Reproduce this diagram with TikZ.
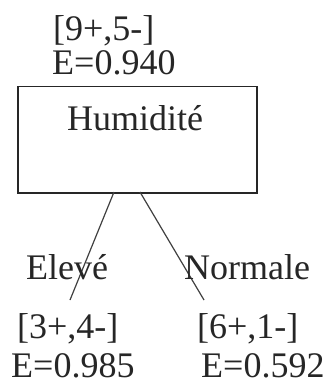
\documentclass[tikz,border=0pt]{standalone}
\usepackage{fontspec}
\setmainfont{Liberation Serif}
\begin{document}
\begin{tikzpicture}[x=1pt,y=-1pt,
  lbl/.style={anchor=base west, inner sep=0pt, font=\fontsize{36}{43}\selectfont, text=black!85},
  boxst/.style={draw=black!85, line width=1.5pt, inner sep=0pt, minimum width=239pt, minimum height=106pt, anchor=north west},
  edge/.style={draw=black!75, line width=1.2pt}]
\useasboundingbox (0,0) rectangle (326,385);
\node[boxst] (box) at (17,86) {};
\node[lbl] (root1) at (53,41) {[9+,5-]};
\node[lbl] (root2) at (52,75) {E=0.940};
\node[lbl] (hum) at (67,130) {Humidité};
\coordinate (sl) at (114,192);
\coordinate (sr) at (140,192);
\coordinate (el) at (70,300);
\coordinate (er) at (204,300);
\draw[edge] (sl) -- (el);
\draw[edge] (sr) -- (er);
\node[lbl] (elev) at (26,279) {Elevé};
\node[lbl] (norm) at (184,279) {Normale};
\node[lbl] (l1) at (17,338) {[3+,4-]};
\node[lbl] (l2) at (11,377) {E=0.985};
\node[lbl] (r1) at (197,338) {[6+,1-]};
\node[lbl] (r2) at (201,377) {E=0.592};
\end{tikzpicture}
\end{document}
